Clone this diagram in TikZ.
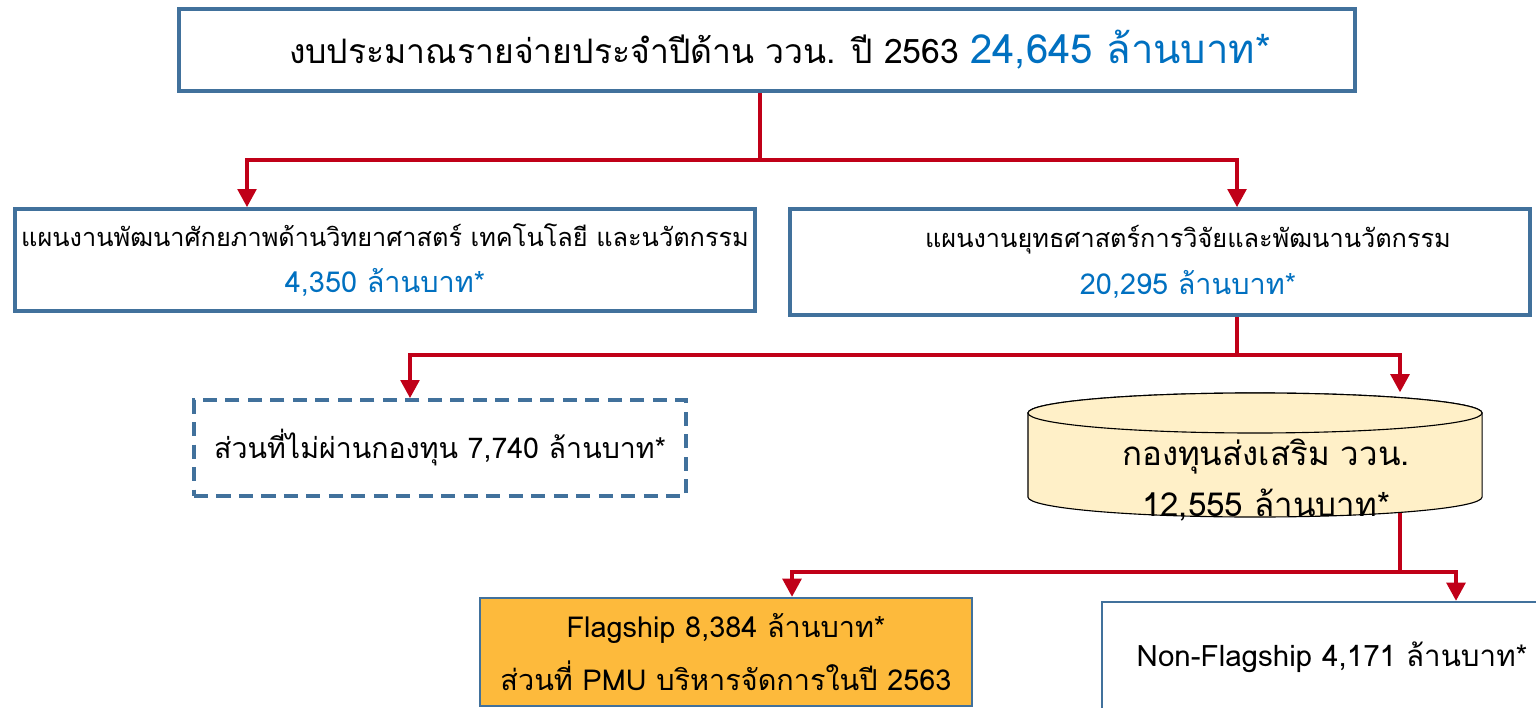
\documentclass[tikz,border=0pt]{standalone}
\usepackage{fontspec}
\setmainfont[Script=Thai]{Loma}
\usetikzlibrary{arrows.meta}
\usetikzlibrary{backgrounds}
\usetikzlibrary{positioning}
\definecolor{boxblue}{HTML}{41719C}
\definecolor{linkred}{HTML}{C00018}
\definecolor{sumblue}{HTML}{0070C0}
\definecolor{fundfill}{HTML}{FFF0C8}
\definecolor{flagfill}{HTML}{FDBA3C}
\begin{document}
\begin{tikzpicture}[x=0.025cm, y=-0.025cm]
\tikzstyle{plan}=[draw=boxblue, line width=2.4pt, fill=white, align=center, inner sep=0pt]
\tikzstyle{fund}=[draw=black, line width=0.8pt, fill=fundfill]
\tikzstyle{feed}=[draw=linkred, line width=3.4pt]
\tikzstyle{arr}=[feed, -{Triangle[length=13pt, width=13pt]}]
\useasboundingbox (0,0) rectangle (1536,708);
\node[plan, minimum width=29.4cm, minimum height=2.05cm] (T) at (767,50)
  {\hspace*{0.65cm}\fontsize{24}{28}\selectfont งบประมาณรายจ่ายประจำปีด้าน ววน. ปี 2563 \textcolor{sumblue}{\fontsize{28.5}{32}\selectfont 24,645 ล้านบาท*}};
\node[plan, minimum width=18.5cm, minimum height=2.55cm, font=\fontsize{18}{33}\selectfont] (L) at (385,260)
  {แผนงานพัฒนาศักยภาพด้านวิทยาศาสตร์ เทคโนโลยี และนวัตกรรม\\ \textcolor{sumblue}{\fontsize{20.5}{33}\selectfont 4,350 ล้านบาท*}};
\node[plan, minimum width=18.5cm, minimum height=2.65cm, font=\fontsize{18}{33}\selectfont] (R) at (1160,262)
  {\hspace*{1.4cm}แผนงานยุทธศาสตร์การวิจัยและพัฒนานวัตกรรม\\ \hspace*{1.4cm}\textcolor{sumblue}{\fontsize{20.5}{33}\selectfont 20,295 ล้านบาท*}};
\node[plan, dash pattern=on 10pt off 6pt, minimum width=12.3cm, minimum height=2.4cm, font=\fontsize{20.3}{24}\selectfont] (D) at (440,448)
  {ส่วนที่ไม่ผ่านกองทุน 7,740 ล้านบาท*};
% fund drum
\node[minimum width=11.35cm, minimum height=3.125cm, outer sep=0pt] (C) at (1255,455) {};
\draw[fund] ([yshift=1.05cm]C.west) -- ([yshift=-1.05cm]C.west)
  arc[start angle=180, end angle=360, x radius=5.675cm, y radius=0.5cm]
  -- ([yshift=1.05cm]C.east)
  arc[start angle=0, end angle=180, x radius=5.675cm, y radius=0.5cm] -- cycle;
\draw[fund] ([yshift=1.05cm]C.center) ellipse [x radius=5.675cm, y radius=0.5cm];
\node[align=center, font=\fontsize{23.5}{36}\selectfont] (Ct) at (1266,480) {กองทุนส่งเสริม ววน.\\12,555 ล้านบาท*};
\node[plan, line width=1.4pt, fill=flagfill, minimum width=12.3cm, minimum height=2.7cm, font=\fontsize{20.5}{38}\selectfont] (F) at (726,652)
  {Flagship 8,384 ล้านบาท*\\ ส่วนที่ PMU บริหารจัดการในปี 2563};
\node[plan, line width=1.4pt, minimum width=11.5cm, minimum height=2.75cm, font=\fontsize{21}{24}\selectfont] (N) at (1332,657)
  {Non-Flagship 4,171 ล้านบาท*};
\begin{scope}[on background layer]
\fill[white] (0,0) rectangle (1536,708);
\foreach \src/\lt/\rt/\jx/\jy/\lx/\rx in {T/L/R/760/160/247/1237, R/D/C/1237/355/410/1400, C/F/N/1400/572/792/1456}{
  \coordinate (j) at (\jx,\jy);
  \coordinate (a) at (\lx,\jy);
  \coordinate (b) at (\rx,\jy);
  \draw[feed] (\src.center -| j) -- (j);
  \draw[feed, line cap=rect] (a) -- (b);
  \draw[arr] (a) -- (\lt.north -| a);
  \draw[arr] (b) -- (\rt.north -| b);}
\end{scope}
\end{tikzpicture}
\end{document}
